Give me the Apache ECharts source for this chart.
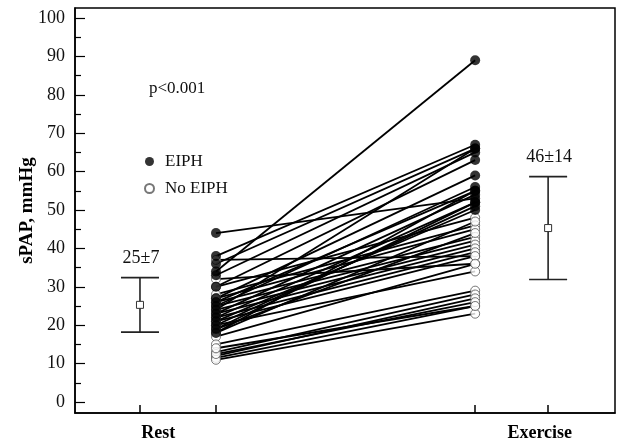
<!DOCTYPE html>
<html>
<head>
<meta charset="utf-8">
<script src="https://cdn.jsdelivr.net/npm/echarts@6/dist/echarts.min.js"></script>
<style>
    html, body { margin: 0; padding: 0; background: #fff; }
    #chart { width: 619px; height: 445px; }
</style>
</head>
<body>
<div id="chart"></div>
<script>
    // x positions: rest mean bar, rest data, exercise data, exercise mean bar
    const xPos = [1, 2, 5.41, 6.37];
    const groupLabels = ['Rest', 'Exercise'];
    const groupLabelPos = [1.24, 6.26];
    const yTicks = [0, 10, 20, 30, 40, 50, 60, 70, 80, 90, 100];
    const yMinorTicks = [5, 15, 25, 35, 45, 55, 65, 75, 85, 95];

    // paired sPAP values (rest, exercise)
    const eiphRest = [44, 34, 38, 36, 33, 30, 27, 25, 26, 23, 22, 20, 21, 19, 18, 24];
    const eiphExercise = [53, 89, 67, 66, 65, 63, 59, 56, 55, 54, 52, 51, 50, 52, 55, 66];
    const noEiphRest = [37, 32, 30, 28, 27, 26, 25, 24, 23, 22, 21, 20, 19, 18, 17, 15, 13, 12, 11.5, 11, 12.5, 14];
    const noEiphExercise = [38, 36, 48, 46, 45, 43, 42, 41, 40, 39, 38, 34, 44, 47, 36, 29, 28, 27, 25, 23, 26, 25];

    // mean ± SD
    const means = [25.3, 45.3];
    const sds = [7.1, 13.4];
    const meanLabels = ['25±7', '46±14'];

    const serif = 'Liberation Serif';
    const chart = echarts.init(document.getElementById('chart'));

    const pairSeries = [];
    eiphRest.forEach((r, i) => {
        pairSeries.push({ type: 'line', data: [[xPos[1], r], [xPos[2], eiphExercise[i]]] });
    });
    noEiphRest.forEach((r, i) => {
        pairSeries.push({ type: 'line', data: [[xPos[1], r], [xPos[2], noEiphExercise[i]]] });
    });
    pairSeries.forEach(s => {
        s.symbol = 'none';
        s.silent = true;
        s.z = 2;
        s.lineStyle = { color: '#000', width: 1.8 };
    });

    const openPts = [];
    noEiphRest.forEach((r, i) => { openPts.push([xPos[1], r], [xPos[2], noEiphExercise[i]]); });
    const filledPts = [];
    eiphRest.forEach((r, i) => { filledPts.push([xPos[1], r], [xPos[2], eiphExercise[i]]); });

    const option = {
        animation: false,
        title: {
            text: 'p<0.001',
            left: 144, top: 75,
            textStyle: { fontFamily: serif, fontSize: 17, fontWeight: 'normal', color: '#111' }
        },
        legend: {
            orient: 'vertical',
            left: 139, top: 148,
            itemWidth: 9, itemHeight: 9, itemGap: 10,
            data: ['EIPH', 'No EIPH'],
            textStyle: { fontFamily: serif, fontSize: 17, color: '#111', padding: [0, 0, 0, 6] }
        },
        grid: {
            left: 75, right: 4, top: 8, bottom: 32,
            show: true, borderColor: '#000', borderWidth: 1.5
        },
        xAxis: {
            type: 'value',
            min: 0.145, max: 7.25,
            splitLine: { show: false },
            axisLine: { onZero: false, lineStyle: { color: '#000', width: 1.5 } },
            axisTick: { inside: true, length: 8, customValues: xPos, lineStyle: { color: '#000', width: 1.5 } },
            axisLabel: {
                customValues: groupLabelPos,
                formatter: v => groupLabels[groupLabelPos.indexOf(v)] || '',
                fontFamily: serif, fontSize: 18, fontWeight: 'bold', color: '#000', margin: 11
            }
        },
        yAxis: [{
            type: 'value',
            min: -2.86, max: 102.6,
            name: 'sPAP, mmHg',
            nameLocation: 'middle',
            nameGap: 38,
            nameMoveOverlap: false,
            nameTextStyle: { fontFamily: serif, fontSize: 19, fontWeight: 'bold', color: '#000' },
            splitLine: { show: false },
            axisLine: { onZero: false, lineStyle: { color: '#000', width: 1.5 } },
            axisTick: { inside: true, length: 10, customValues: yTicks, lineStyle: { color: '#000', width: 1.2 } },
            axisLabel: { customValues: yTicks, fontFamily: serif, fontSize: 18, color: '#111', margin: 10 }
        }, {
            type: 'value',
            position: 'left',
            min: -2.86, max: 102.6,
            splitLine: { show: false },
            axisLine: { show: false, onZero: false },
            axisTick: { inside: true, length: 6, customValues: yMinorTicks, lineStyle: { color: '#000', width: 1.2 } },
            axisLabel: { show: false }
        }],
        series: pairSeries.concat([{
            name: 'No EIPH',
            type: 'scatter',
            z: 3,
            symbol: 'circle',
            symbolSize: 9,
            itemStyle: { color: '#fff', borderColor: '#555', borderWidth: 1 },
            data: openPts
        }, {
            name: 'EIPH',
            type: 'scatter',
            z: 4,
            symbol: 'circle',
            symbolSize: 10,
            itemStyle: { color: '#000' },
            data: filledPts
        }, {
            type: 'custom',
            z: 5,
            silent: true,
            data: means.map((m, i) => [i === 0 ? xPos[0] : xPos[3], m, sds[i], i]),
            renderItem: (params, api) => {
                const x = api.value(0), m = api.value(1), sd = api.value(2), i = api.value(3);
                const c = api.coord([x, m]);
                const top = api.coord([x, m + sd]);
                const bot = api.coord([x, m - sd]);
                const half = 19;
                const ls = { stroke: '#222', lineWidth: 1.6 };
                return {
                    type: 'group',
                    children: [
                        { type: 'line', shape: { x1: c[0], y1: top[1], x2: c[0], y2: bot[1] }, style: ls },
                        { type: 'line', shape: { x1: c[0] - half, y1: top[1], x2: c[0] + half, y2: top[1] }, style: ls },
                        { type: 'line', shape: { x1: c[0] - half, y1: bot[1], x2: c[0] + half, y2: bot[1] }, style: ls },
                        { type: 'rect', shape: { x: c[0] - 3.5, y: c[1] - 3.5, width: 7, height: 7 },
                          style: { fill: '#fff', stroke: '#333', lineWidth: 1 } },
                        { type: 'text', x: c[0] + 1, y: top[1] - 19,
                          style: { text: meanLabels[i], fontFamily: serif, fontSize: 18, fill: '#111',
                                   align: 'center', verticalAlign: 'middle' } }
                    ]
                };
            }
        }])
    };

    chart.setOption(option);
</script>
</body>
</html>
